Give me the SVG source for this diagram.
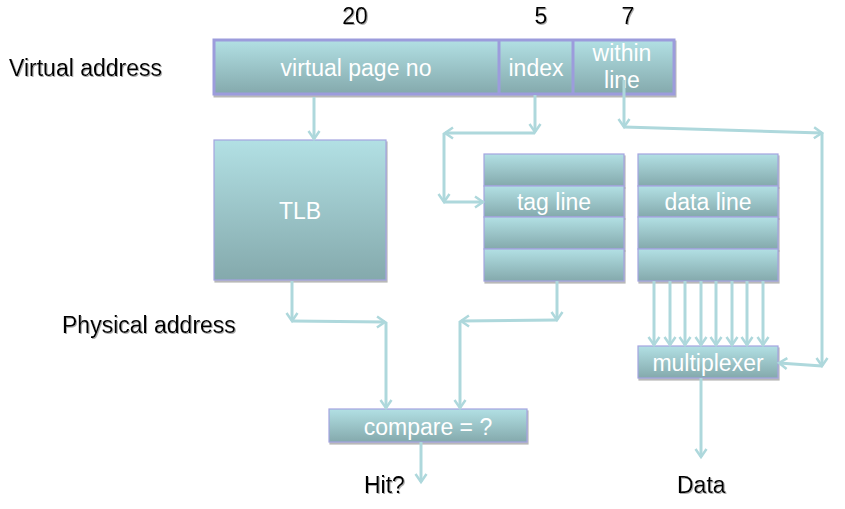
<svg xmlns="http://www.w3.org/2000/svg" width="845" height="509" viewBox="0 0 845 509">
<defs>
<linearGradient id="g" x1="0" y1="0" x2="0" y2="1">
<stop offset="0" stop-color="#b2e0e4"/>
<stop offset="1" stop-color="#84a9ac"/>
</linearGradient>
<filter id="sh" x="-10%" y="-10%" width="120%" height="130%">
<feDropShadow dx="1" dy="2" stdDeviation="0.6" flood-color="#888" flood-opacity="0.6"/>
</filter>
<filter id="tsh" x="-5%" y="-10%" width="110%" height="130%">
<feDropShadow dx="1" dy="1" stdDeviation="0.4" flood-color="#999" flood-opacity="0.8"/>
</filter>
<marker id="a" markerWidth="14" markerHeight="14" refX="10" refY="7" orient="auto" markerUnits="userSpaceOnUse">
<path d="M2,1.5 L10,7 L2,12.5" fill="none" stroke="#aed8dc" stroke-width="2.5"/>
</marker>
</defs>
<style>
.box{fill:url(#g);stroke:#a4a4e0;stroke-width:1.2;filter:url(#sh)}
.w{font-family:"Liberation Sans",Arial,sans-serif;font-size:23px;fill:#fff;text-anchor:middle}
.b{font-family:"Liberation Sans",Arial,sans-serif;font-size:23px;fill:#000;filter:url(#tsh)}
.ca{fill:none;stroke:#aed8dc;stroke-width:3;marker-end:url(#a)}
</style>
<rect width="845" height="509" fill="#fff"/>
<text class="b" x="355" y="24" text-anchor="middle">20</text>
<text class="b" x="541" y="24" text-anchor="middle">5</text>
<text class="b" x="628" y="24" text-anchor="middle">7</text>
<text class="b" x="9" y="76">Virtual address</text>
<text class="b" x="62" y="333">Physical address</text>
<text class="b" x="364" y="493">Hit?</text>
<text class="b" x="677" y="493">Data</text>
<g id="virtual-address">
<rect x="214" y="40" width="460" height="54" fill="url(#g)" stroke="#9c9cdc" stroke-width="3" filter="url(#sh)"/>
<line x1="499" y1="40" x2="499" y2="94" stroke="#9c9cdc" stroke-width="3"/>
<line x1="573" y1="40" x2="573" y2="94" stroke="#9c9cdc" stroke-width="3"/>
<text class="w" x="356" y="76">virtual page no</text>
<text class="w" x="536" y="76">index</text>
<text class="w" x="622" y="61">within</text>
<text class="w" x="622" y="88">line</text>
</g>
<g id="tlb">
<rect class="box" x="214" y="140" width="172" height="140"/>
<text class="w" x="300" y="219">TLB</text>
</g>
<g id="tag-array">
<rect class="box" x="484" y="154" width="140" height="32"/>
<rect class="box" x="484" y="186" width="140" height="31"/>
<rect class="box" x="484" y="217" width="140" height="32"/>
<rect class="box" x="484" y="249" width="140" height="32"/>
<text class="w" x="554" y="210">tag line</text>
</g>
<g id="data-array">
<rect class="box" x="638" y="154" width="140" height="32"/>
<rect class="box" x="638" y="186" width="140" height="31"/>
<rect class="box" x="638" y="217" width="140" height="32"/>
<rect class="box" x="638" y="249" width="140" height="32"/>
<text class="w" x="708" y="210">data line</text>
</g>
<g id="multiplexer">
<rect class="box" x="638" y="346" width="140" height="32"/>
<text class="w" x="708" y="371">multiplexer</text>
</g>
<g id="compare">
<rect class="box" x="329" y="409" width="198" height="33"/>
<text class="w" x="428" y="435">compare = ?</text>
</g>
<g id="connectors">
<path class="ca" d="M314,97 L314,139"/>
<path class="ca" d="M535,95 L535,132"/>
<path class="ca" d="M535,133 L445,133"/>
<path class="ca" d="M444,133 L444,202"/>
<path class="ca" d="M444,202 L483,202"/>
<path class="ca" d="M624,80 L624,127"/>
<path class="ca" d="M624,127 L822,133"/>
<path class="ca" d="M822,133 L822,366"/>
<path class="ca" d="M822,366 L779,363"/>
<path class="ca" d="M292,281 L292,321"/>
<path class="ca" d="M292,321 L385,322"/>
<path class="ca" d="M386,322 L386,408"/>
<path class="ca" d="M557,281 L557,320"/>
<path class="ca" d="M557,320 L461,321"/>
<path class="ca" d="M460,321 L460,408"/>
<path class="ca" d="M654,281 L654,345"/>
<path class="ca" d="M670,281 L670,345"/>
<path class="ca" d="M685,281 L685,345"/>
<path class="ca" d="M701,281 L701,345"/>
<path class="ca" d="M716,281 L716,345"/>
<path class="ca" d="M732,281 L732,345"/>
<path class="ca" d="M747,281 L747,345"/>
<path class="ca" d="M763,281 L763,345"/>
<path class="ca" d="M701,378 L701,457"/>
<path class="ca" d="M421,442 L421,482"/>
</g>
</svg>
